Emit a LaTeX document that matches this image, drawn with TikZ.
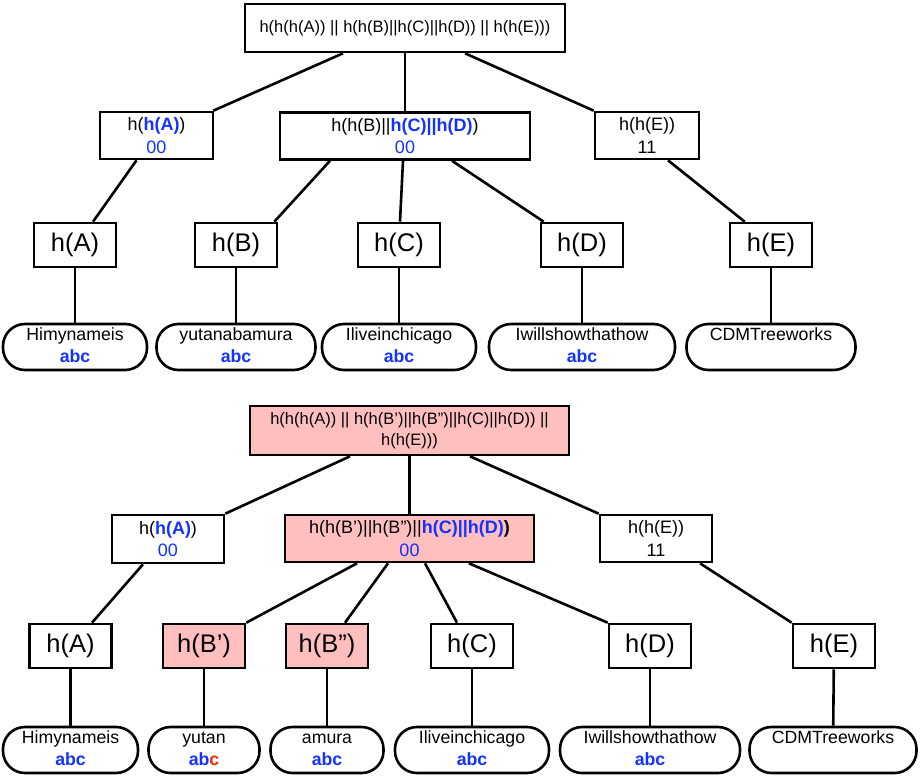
\documentclass[tikz,border=0pt]{standalone}
\usepackage{fontspec}
\setmainfont{Liberation Sans}
\definecolor{hashblue}{RGB}{20,50,255}
\definecolor{hashred}{RGB}{255,40,0}
\definecolor{hashpink}{RGB}{255,191,191}
\newcommand{\bluebold}[1]{\textcolor{hashblue}{\bfseries #1}}
\newcommand{\leaf}[2]{\strut #1\\#2\strut}

\begin{document}
\begin{tikzpicture}[x=1pt, y=-1pt, line width=2.6pt,
    hashbox/.style={draw, rectangle, inner sep=0pt, align=center, minimum height=47pt, font=\fontsize{18}{22.5}\selectfont},
    bigbox/.style={draw, rectangle, inner sep=0pt, minimum width=82pt, minimum height=44pt, font=\fontsize{25.5}{30}\selectfont},
    leafbox/.style={draw, rectangle, rounded corners=22pt, inner sep=0pt, align=center, minimum height=46pt, font=\fontsize{17.7}{22.5}\selectfont},
    changed/.style={fill=hashpink}]
    \useasboundingbox (0,0) rectangle (920,776);

    \node[hashbox, minimum width=320pt, minimum height=48pt, font=\fontsize{16.5}{21}\selectfont] (root1) at (405,28) {h(h(h(A)) || h(h(B)||h(C)||h(D)) || h(h(E)))};
    \node[hashbox, minimum width=113pt] (hhA1) at (156.5,135.5) {h(\bluebold{h(A)})\\\textcolor{hashblue}{00}};
    \node[hashbox, minimum width=250pt] (mid1) at (405,136) {h(h(B)||\bluebold{h(C)||h(D)})\\\textcolor{hashblue}{00}};
    \node[hashbox, minimum width=104pt] (hhE1) at (647,135.5) {h(h(E))\\11};

    \node[bigbox] (hA1) at (75,245) {h(A)};
    \node[bigbox] (hB1) at (236,245) {h(B)};
    \node[bigbox] (hC1) at (399,245) {h(C)};
    \node[bigbox] (hD1) at (582,245) {h(D)};
    \node[bigbox] (hE1) at (771,245) {h(E)};

    \node[leafbox, minimum width=144pt] (lA1) at (75,347) {\leaf{Himynameis}{\bluebold{abc}}};
    \node[leafbox, minimum width=159pt] (lB1) at (236,347) {\leaf{yutanabamura}{\bluebold{abc}}};
    \node[leafbox, minimum width=154pt] (lC1) at (399,347) {\leaf{Iliveinchicago}{\bluebold{abc}}};
    \node[leafbox, minimum width=186pt] (lD1) at (582,347) {\leaf{Iwillshowthathow}{\bluebold{abc}}};
    \node[leafbox, minimum width=169pt] (lE1) at (771,347) {\leaf{CDMTreeworks}{}};

    \draw ([xshift=-62pt]root1.south) -- ([xshift=-1pt]hhA1.north east);
    \draw (root1.south) -- (mid1.north);
    \draw ([xshift=60pt]root1.south) -- (hhE1.north west);
    \draw ([xshift=-20pt]hhA1.south) -- ([xshift=18pt]hA1.north);
    \draw ([xshift=-75pt]mid1.south) -- ([xshift=-4pt]hB1.north east);
    \draw ([xshift=-2pt]mid1.south) -- ([xshift=1pt]hC1.north);
    \draw ([xshift=47pt]mid1.south) -- ([xshift=4pt]hD1.north west);
    \draw ([xshift=21pt]hhE1.south) -- ([xshift=16pt]hE1.north west);
    \draw (hA1) -- (lA1);
    \draw (hB1) -- (lB1);
    \draw (hC1) -- (lC1);
    \draw (hD1) -- (lD1);
    \draw (hE1) -- (lE1);

    \node[hashbox, changed, minimum width=319pt, minimum height=49pt, font=\fontsize{16.5}{21}\selectfont] (root2) at (409.5,430.5) {h(h(h(A)) || h(h(B’)||h(B”)||h(C)||h(D)) ||\\h(h(E)))};
    \node[hashbox, minimum width=112pt, minimum height=48pt] (hhA2) at (168,539) {h(\bluebold{h(A)})\\\textcolor{hashblue}{00}};
    \node[hashbox, changed, minimum width=249pt] (mid2) at (409.5,538.5) {h(h(B’)||h(B”)||\bluebold{h(C)||h(D)}\textbf{)}\\\textcolor{hashblue}{00}};
    \node[hashbox, minimum width=112pt] (hhE2) at (656,538.5) {h(h(E))\\11};

    \node[bigbox] (hA2) at (70.5,646) {h(A)};
    \node[bigbox, changed] (hBa2) at (204,646) {h(B’)};
    \node[bigbox, changed] (hBb2) at (327,646) {h(B”)};
    \node[bigbox] (hC2) at (472,646) {h(C)};
    \node[bigbox] (hD2) at (650,646) {h(D)};
    \node[bigbox] (hE2) at (834,646) {h(E)};

    \node[leafbox, minimum width=135pt] (lA2) at (70.5,750) {\leaf{Himynameis}{\bluebold{abc}}};
    \node[leafbox, minimum width=111pt] (lBa2) at (204,750) {\leaf{yutan}{\textbf{\textcolor{hashblue}{ab}\textcolor{hashred}{c}}}};
    \node[leafbox, minimum width=113pt] (lBb2) at (327,750) {\leaf{amura}{\bluebold{abc}}};
    \node[leafbox, minimum width=154pt] (lC2) at (472,750) {\leaf{Iliveinchicago}{\bluebold{abc}}};
    \node[leafbox, minimum width=180pt] (lD2) at (650,750) {\leaf{Iwillshowthathow}{\bluebold{abc}}};
    \node[leafbox, minimum width=167pt] (lE2) at (833,750) {\leaf{CDMTreeworks}{}};

    \draw ([xshift=-59.5pt]root2.south) -- (hhA2.north east);
    \draw (root2.south) -- (mid2.north);
    \draw ([xshift=60.5pt]root2.south) -- (hhE2.north west);
    \draw ([xshift=-25pt]hhA2.south) -- ([xshift=21.5pt]hA2.north);
    \draw ([xshift=-52.5pt]mid2.south) -- (hBa2.north east);
    \draw ([xshift=-21.5pt]mid2.south) -- ([xshift=18pt]hBb2.north);
    \draw ([xshift=15.5pt]mid2.south) -- ([xshift=-15pt]hC2.north);
    \draw ([xshift=59.5pt]mid2.south) -- (hD2.north west);
    \draw ([xshift=44pt]hhE2.south) -- (hE2.north west);
    \draw (hA2) -- (lA2);
    \draw (hBa2) -- (lBa2);
    \draw (hBb2) -- (lBb2);
    \draw (hC2) -- (lC2);
    \draw (hD2) -- (lD2);
    \draw (hE2) -- (lE2);
\end{tikzpicture}
\end{document}
